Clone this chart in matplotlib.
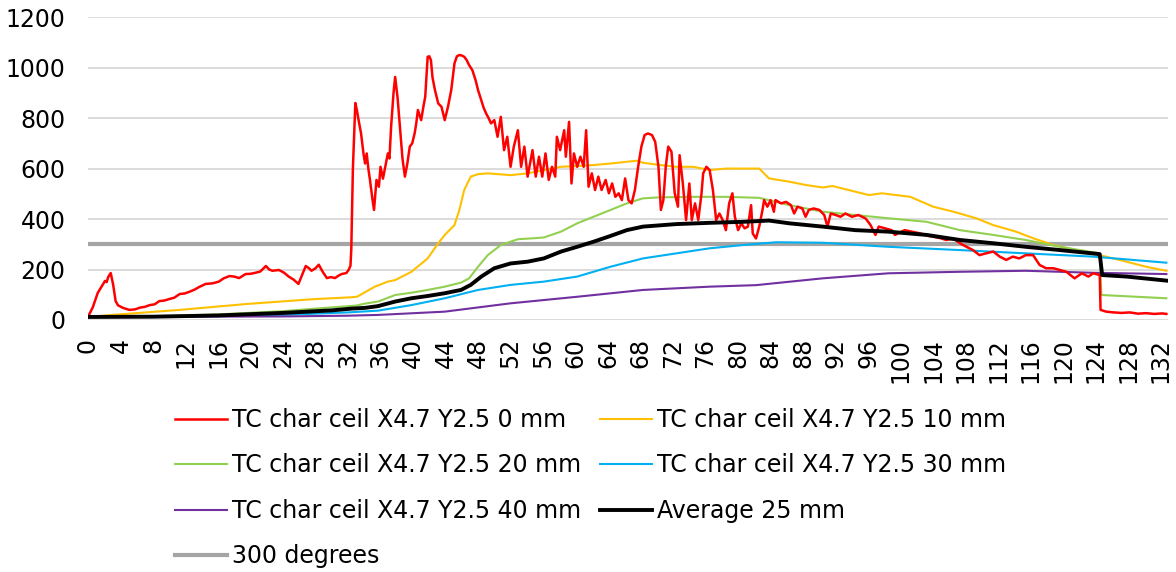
import numpy as np
import matplotlib as mpl
mpl.use('Agg')
import matplotlib.pyplot as plt

# thermocouple readings under the charred ceiling, time in minutes
red_x = [0, 0.6, 1.2, 1.8, 2.1, 2.3, 2.5, 2.8, 3.1, 3.4, 3.7, 4.3, 5.1, 5.8, 6.4, 7.0, 7.6, 8.2, 8.8, 9.4,
         10.0, 10.6, 11.3, 11.9, 12.5, 13.1, 13.7, 14.5, 15.3, 16.1, 16.7, 17.4, 18.0, 18.6, 19.4, 20.0,
         20.6, 21.2, 21.9, 22.3, 22.7, 23.5, 24.1, 24.7, 25.3, 25.9, 26.3, 26.8, 27.2, 27.5, 28.0, 28.4,
         28.9, 29.4, 29.9, 30.4, 30.8, 31.2, 31.8, 32.1, 32.3, 32.4, 32.6, 32.8, 32.9, 33.1, 33.3, 33.6,
         33.9, 34.1, 34.3, 34.5, 34.7, 35.0, 35.2, 35.5, 35.8, 36.0, 36.3, 36.5, 36.9, 37.1, 37.3, 37.6,
         37.8, 38.1, 38.4, 38.7, 39.0, 39.3, 39.6, 39.9, 40.2, 40.4, 40.6, 41.0, 41.3, 41.5, 41.8, 42.0,
         42.2, 42.4, 42.7, 43.1, 43.5, 43.9, 44.3, 44.7, 45.1, 45.4, 45.7, 46.0, 46.3, 46.6, 46.9, 47.3,
         47.7, 48.0, 48.4, 48.7, 49.0, 49.3, 49.6, 50.0, 50.4, 50.8, 51.2, 51.6, 52.0, 52.4, 52.9, 53.3,
         53.7, 54.1, 54.7, 55.1, 55.5, 55.9, 56.3, 56.7, 57.1, 57.5, 57.7, 58.1, 58.6, 58.8, 59.2, 59.5,
         59.8, 60.2, 60.6, 61.0, 61.3, 61.6, 62.0, 62.4, 62.8, 63.2, 63.7, 64.1, 64.5, 64.9, 65.3, 65.7,
         66.1, 66.5, 66.9, 67.3, 67.7, 68.1, 68.5, 68.9, 69.4, 69.8, 70.2, 70.5, 70.8, 71.1, 71.4, 71.8,
         72.2, 72.6, 72.8, 73.2, 73.6, 74.0, 74.3, 74.7, 75.1, 75.5, 75.7, 76.1, 76.5, 76.9, 77.3, 77.7,
         78.1, 78.5, 78.9, 79.3, 79.6, 80.0, 80.4, 80.8, 81.2, 81.6, 81.8, 82.2, 82.6, 83.0, 83.2, 83.6,
         84.0, 84.4, 84.6, 85.3, 85.9, 86.5, 86.9, 87.3, 87.9, 88.3, 88.7, 89.3, 90.0, 90.6, 91.0, 91.4,
         92.0, 92.6, 93.2, 94.0, 94.8, 95.7, 96.3, 96.9, 97.3, 98.1, 98.9, 99.3, 100.5, 101.4, 102.4,
         103.2, 104.0, 104.8, 105.6, 106.5, 107.3, 108.1, 108.9, 109.7, 110.5, 111.4, 112.2, 113.0,
         113.8, 114.6, 115.4, 116.3, 117.1, 117.9, 118.8, 119.6, 120.4, 121.4, 122.3, 123.1, 123.7,
         124.5, 124.6, 125.3, 126.2, 127.2, 128.2, 129.2, 130.2, 131.2, 132.2, 132.7]
red_y = [12, 51, 107, 139, 155, 150, 171, 186, 140, 75, 58, 48, 40, 42, 49, 52, 59, 62, 75, 77,
         83, 88, 103, 105, 112, 120, 131, 143, 145, 152, 165, 174, 172, 166, 182, 183,
         187, 192, 214, 200, 195, 198, 188, 172, 160, 143, 175, 214, 205, 195, 205, 219,
         190, 166, 170, 166, 175, 182, 186, 200, 215, 277, 600, 780, 860, 830, 792, 740,
         660, 620, 660, 600, 555, 480, 436, 555, 528, 607, 560, 594, 660, 640, 765, 900,
         963, 880, 760, 640, 568, 620, 687, 700, 740, 780, 832, 792, 850, 884, 1043, 1045,
         1030, 960, 911, 858, 845, 792, 845, 911, 1017, 1045, 1050, 1048, 1043, 1030, 1010, 990,
         950, 911, 871, 840, 818, 800, 779, 792, 726, 805, 673, 726, 607, 687, 752, 607,
         687, 568, 673, 568, 647, 568, 660, 555, 607, 568, 726, 673, 752, 647, 785, 541,
         660, 607, 647, 607, 752, 528, 581, 515, 568, 515, 555, 502, 541, 488, 502, 475,
         561, 475, 462, 515, 607, 687, 733, 739, 733, 706, 607, 436, 475, 607, 687, 667,
         502, 449, 653, 541, 396, 541, 396, 462, 396, 502, 581, 607, 594, 515, 396, 422,
         396, 356, 462, 502, 409, 356, 383, 363, 370, 455, 343, 323, 370, 436, 475, 449,
         475, 429, 475, 462, 468, 455, 422, 449, 442, 409, 436, 442, 436, 416, 370, 422,
         416, 409, 422, 409, 416, 402, 376, 337, 370, 363, 356, 337, 356, 350, 343,
         335, 330, 325, 317, 323, 304, 290, 277, 257, 264, 271, 251, 238,
         251, 244, 257, 257, 218, 205, 205, 198, 191, 165, 185, 172, 185,
         178, 40, 33, 30, 28, 30, 25, 27, 24, 26, 24]

yel_x = [0, 3, 11.3, 19.4, 27.5, 32.4, 33.1, 35.3, 36.9, 37.8, 39.8, 41.8, 43.1, 43.9, 45.1, 45.7,
         46.3, 47.1, 48.0, 49.2, 52.0, 54.1, 56.1, 58.2, 60.2, 62.2, 64.3, 66.3, 67.5, 68.3, 70.4,
         72.4, 74.5, 76.5, 78.5, 80.6, 82.6, 83.8, 86.3, 88.3, 90.4, 91.6, 93.6, 96.1, 97.7, 101.2,
         104.0, 106.5, 109.3, 111.4, 114.2, 116.3, 118.8, 121.6, 124.5, 127.8, 130.2, 132.7]
yel_y = [12, 20, 40, 63, 82, 90, 92, 132, 152, 158, 191, 244, 304, 337, 376, 436,
         515, 568, 578, 581, 574, 581, 594, 607, 610, 614, 620, 627, 631, 623, 614,
         607, 607, 594, 600, 600, 600, 561, 548, 535, 525, 531, 515, 495, 502, 488,
         449, 429, 403, 376, 350, 324, 297, 277, 257, 231, 211, 195]

grn_x = [0, 8, 16, 24, 30, 33, 34.1, 35.7, 37.8, 39.8, 41.8, 43.9, 45.9, 46.9, 48.0, 49.2, 50.8,
         52.9, 54.9, 56.1, 58.2, 60.2, 62.2, 64.3, 66.3, 68.3, 70.4, 74.5, 78.5, 82.6, 86.3, 90.4,
         94.4, 98.5, 103.2, 107.3, 111.4, 115.4, 119.6, 124.5, 124.7, 132.7]
grn_y = [12, 15, 22, 35, 50, 57, 65, 73, 99, 108, 119, 132, 148, 165, 211, 257, 297,
         320, 324, 327, 350, 383, 409, 436, 462, 482, 486, 488, 488, 484, 455, 429,
         416, 403, 389, 356, 337, 317, 290, 264, 99, 86]

blu_x = [0, 16, 24, 32, 35.7, 39.8, 43.9, 48.0, 52.0, 56.1, 60.2, 64.3, 68.3, 72.4, 76.5, 80.6,
         84.7, 90.4, 98.5, 107.3, 115.4, 123.7, 132.7]
blu_y = [12, 15, 20, 30, 37, 59, 86, 119, 139, 152, 172, 211, 244, 264, 284, 297,
         308, 306, 290, 277, 264, 251, 227]

pur_x = [0, 24, 32, 35.7, 43.9, 52.0, 60.2, 68.3, 76.5, 82.2, 90.4, 98.5, 107.3, 115.4, 123.7, 132.7]
pur_y = [12, 14, 17, 20, 33, 66, 92, 119, 132, 138, 165, 185, 191, 195, 187, 182]

avg_x = [0, 8, 16, 24, 30, 32.4, 34.1, 35.7, 37.8, 39.8, 41.8, 43.9, 45.9, 47.1, 48.4, 50.0, 52.0,
         54.1, 56.1, 58.2, 60.2, 62.2, 64.3, 66.3, 68.3, 72.4, 76.5, 80.6, 83.8, 86.3, 90.4, 94.4,
         98.5, 103.2, 107.3, 111.4, 115.4, 119.6, 124.5, 124.8, 127.8, 132.7]
avg_y = [12, 13, 18, 28, 38, 45, 48, 55, 73, 86, 95, 106, 119, 139, 172, 205, 224,
         231, 244, 271, 290, 310, 333, 356, 370, 380, 385, 389, 394, 383, 370, 356,
         350, 337, 317, 304, 290, 277, 261, 178, 172, 156]

limit_x = [0, 132.9]
limit_y = [300, 300]

labels = ["TC char ceil X4.7 Y2.5 0 mm", "TC char ceil X4.7 Y2.5 10 mm",
          "TC char ceil X4.7 Y2.5 20 mm", "TC char ceil X4.7 Y2.5 30 mm",
          "TC char ceil X4.7 Y2.5 40 mm", "Average 25 mm", "300 degrees"]

fs = 17
plt.rcParams['font.family'] = 'DejaVu Sans'

fig = plt.figure(figsize=(11.76, 5.72), dpi=100)
ax = fig.add_axes([0.0748, 0.4406, 0.9184, 0.5294])

l_red, = ax.plot(red_x, red_y, color='#FF0000', lw=1.8, zorder=5)
l_yel, = ax.plot(yel_x, yel_y, color='#FFC000', lw=1.5, zorder=4)
l_grn, = ax.plot(grn_x, grn_y, color='#92D050', lw=1.5, zorder=4)
l_blu, = ax.plot(blu_x, blu_y, color='#00B0F0', lw=1.5, zorder=4)
l_pur, = ax.plot(pur_x, pur_y, color='#7030A0', lw=1.5, zorder=4)
l_avg, = ax.plot(avg_x, avg_y, color='black', lw=2.8, zorder=6)
l_lim, = ax.plot(limit_x, limit_y, color='#A5A5A5', lw=3, zorder=3)

ax.set_xlim(0, 132.9)
ax.set_ylim(0, 1200)
ax.set_yticks(np.arange(0, 1201, 200))
ax.set_xticks(np.arange(0, 133, 4))
ax.set_xticklabels([str(v) for v in range(0, 133, 4)], rotation=90)
ax.tick_params(axis='both', length=0, labelsize=fs)
ax.tick_params(axis='x', pad=13)
ax.tick_params(axis='y', pad=16)
ax.grid(axis='y', color='#D9D9D9', lw=1.3)
ax.set_axisbelow(True)
for s in ax.spines.values():
    s.set_visible(False)

# legend is filled column-wise, so order handles to read row by row
handles = [l_red, l_grn, l_pur, l_lim, l_yel, l_blu, l_avg]
order = [0, 2, 4, 6, 1, 3, 5]
fig.legend(handles, [labels[i] for i in order], loc='upper left',
           bbox_to_anchor=(0.1488, 0.2867), ncol=2, frameon=False, fontsize=fs,
           handlelength=2.2, handletextpad=0.2, columnspacing=0.82,
           labelspacing=0.91, borderpad=0, borderaxespad=0)

plt.savefig("out.png", dpi=100)
